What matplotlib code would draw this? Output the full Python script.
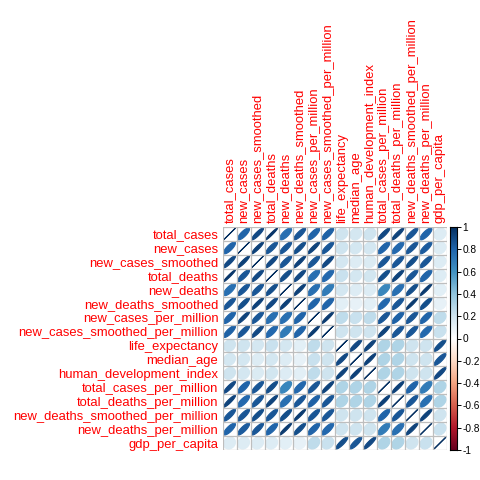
import numpy as np
import matplotlib
matplotlib.use("Agg")
import matplotlib.pyplot as plt
from matplotlib.patches import Polygon
from matplotlib.colors import LinearSegmentedColormap

plt.rcParams['font.family'] = ['Liberation Sans', 'DejaVu Sans']

labels = ['total_cases', 'new_cases', 'new_cases_smoothed', 'total_deaths',
          'new_deaths', 'new_deaths_smoothed', 'new_cases_per_million',
          'new_cases_smoothed_per_million', 'life_expectancy', 'median_age',
          'human_development_index', 'total_cases_per_million',
          'total_deaths_per_million', 'new_deaths_smoothed_per_million',
          'new_deaths_per_million', 'gdp_per_capita']

# upper triangle of the correlation matrix (values right of the diagonal)
upper = [
    [.80, .90, .97, .75, .85, .80, .82, .20, .18, .20, .90, .92, .85, .80, .15],
    [.93, .85, .85, .88, .92, .85, .20, .18, .18, .80, .78, .85, .83, .15],
    [.90, .85, .93, .85, .90, .18, .15, .16, .85, .85, .88, .85, .15],
    [.88, .90, .75, .78, .22, .18, .19, .88, .92, .85, .80, .15],
    [.93, .75, .70, .18, .15, .15, .65, .75, .88, .95, .12],
    [.80, .80, .12, .10, .12, .78, .85, .95, .88, .10],
    [.95, .25, .22, .25, .85, .82, .85, .80, .25],
    [.20, .20, .20, .92, .85, .85, .78, .22],
    [.90, .92, .30, .30, .20, .20, .88],
    [.93, .30, .30, .20, .20, .85],
    [.30, .30, .20, .20, .90],
    [.93, .80, .70, .30],
    [.85, .75, .30],
    [.92, .20],
    [.22],
]

n = len(labels)
corr = np.eye(n)
for i, row in enumerate(upper):
    corr[i, i + 1:] = row
    corr[i + 1:, i] = row

# corrplot's RdBu palette
cmap = LinearSegmentedColormap.from_list('rdbu', [
    "#67001F", "#B2182B", "#D6604D", "#F4A582", "#FDDBC7", "#FFFFFF",
    "#D1E5F0", "#92C5DE", "#4393C3", "#2166AC", "#053061"], N=200)


def ellipse(rho, cx, cy, length=99):
    k = np.linspace(0, 2 * np.pi, length)
    a = np.arccos(np.clip(rho, -1, 1))
    x = 0.85 * np.cos(k + a / 2) / 2
    y = 0.85 * np.cos(k - a / 2) / 2
    return np.column_stack([x + cx, y + cy])


fig = plt.figure(figsize=(4.8, 4.8), dpi=100)
ax = fig.add_axes([222.5 / 480, 30 / 480, 224.5 / 480, 223 / 480])

for i in range(n):
    for j in range(n):
        r = corr[i, j]
        col = cmap((r + 1) / 2)
        cx, cy = j + 0.5, n - i - 0.5
        ax.add_patch(Polygon(ellipse(r, cx, cy), closed=True, facecolor=col,
                             edgecolor=col, linewidth=0.8))

for k in range(n + 1):
    ax.plot([k, k], [0, n], color='#BEBEBE', lw=0.9, zorder=3)
    ax.plot([0, n], [k, k], color='#BEBEBE', lw=0.9, zorder=3)

ax.set_xlim(0, n)
ax.set_ylim(0, n)
for s in ax.spines.values():
    s.set_visible(False)
ax.xaxis.tick_top()
ax.set_xticks(np.arange(n) + 0.5)
ax.set_xticklabels(labels, rotation=90, color='red', fontsize=9.4)
ax.set_yticks(n - np.arange(n) - 0.5)
ax.set_yticklabels(labels, color='red', fontsize=9.4)
ax.tick_params(length=0, pad=3)

# colour legend
cax = fig.add_axes([450 / 480, 30 / 480, 7 / 480, 223 / 480])
grad = np.linspace(-1, 1, 200).reshape(-1, 1)
cax.imshow(grad, cmap=cmap, aspect='auto', origin='lower', extent=[0, 1, -1, 1])
cax.set_xticks([])
cax.yaxis.tick_right()
cax.set_yticks(np.arange(-1, 1.01, 0.2))
cax.set_yticklabels(['-1', '-0.8', '-0.6', '-0.4', '-0.2', '0',
                     '0.2', '0.4', '0.6', '0.8', '1'], fontsize=7.3)
cax.tick_params(axis='y', length=3, width=0.7, pad=0.8)
for s in cax.spines.values():
    s.set_linewidth(0.8)

fig.savefig('out.png', dpi=100)
